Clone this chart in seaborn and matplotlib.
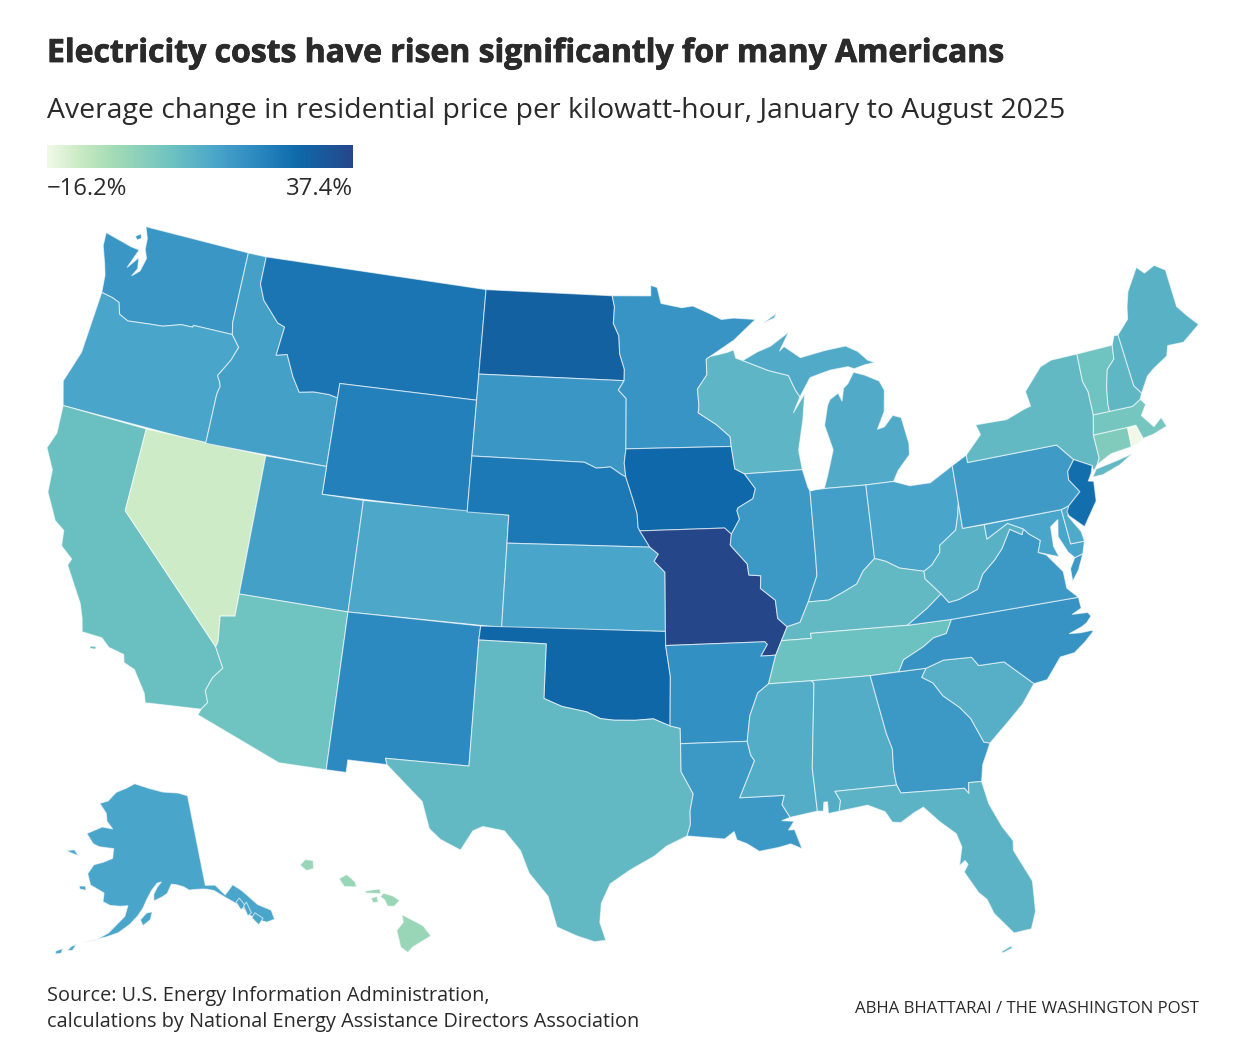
import numpy as np
import matplotlib
matplotlib.use("Agg")
import matplotlib.pyplot as plt
import matplotlib.patheffects as pe
from matplotlib.colors import LinearSegmentedColormap, Normalize
import seaborn as sns

# change in price, percent
states = ['WA','OR','CA','NV','ID','MT','WY','UT','CO','AZ','NM','ND','SD','NE','KS','OK','TX',
          'MN','IA','MO','AR','LA','WI','IL','MI','IN','OH','KY','TN','MS','AL','GA','FL','SC',
          'NC','VA','WV','MD','DE','PA','NY','NJ','CT','RI','MA','VT','NH','ME','AK','HI']
change = [17.0,13.3,6.3,-10.8,14.4,25.0,22.4,14.4,12.7,5.2,20.2,29.9,17.0,24.0,13.3,28.3,7.9,
          17.6,27.8,37.4,18.6,16.5,9.0,16.5,11.7,14.9,13.3,7.9,5.8,11.1,11.1,16.5,9.5,10.6,
          18.1,16.5,10.0,13.3,12.2,16.0,7.9,26.7,2.0,-16.2,4.2,5.2,8.5,10.0,13.3,-2.8]
vmin, vmax = -16.2, 37.4

# state outlines, lon/lat. simplified by hand. some states have more than one piece
outlines = {
 'WA': [[(-124.7,48.38),(-124.65,47.9),(-124.3,47.3),(-124.1,46.9),(-124.0,46.27),(-123.4,46.2),(-123.0,46.1),(-122.8,45.7),(-122.3,45.55),(-121.2,45.65),(-120.5,45.7),(-119.6,45.92),(-119.0,45.93),(-118.98,46.0),(-116.92,46.0),(-117.04,46.42),(-117.04,49),(-122.75,49),(-122.5,48.6),(-122.45,48.2),(-122.25,47.9),(-122.4,47.4),(-122.75,47.15),(-122.55,47.45),(-122.65,47.85),(-123.1,47.4),(-122.75,48.12),(-123.2,48.15)],
        [(-123.15,48.55),(-122.9,48.7),(-122.8,48.55),(-123.0,48.45)]],
 'OR': [[(-124.2,42),(-124.55,42.84),(-124.1,44.0),(-124.0,46.27),(-123.4,46.2),(-123.0,46.1),(-122.8,45.7),(-122.3,45.55),(-121.2,45.65),(-120.5,45.7),(-119.6,45.92),(-119.0,45.93),(-118.98,46.0),(-116.92,46.0),(-116.46,45.6),(-116.7,45.1),(-116.85,44.9),(-117.2,44.45),(-117.03,44.25),(-116.95,44.1),(-117.03,43.8),(-117.03,42)]],
 'CA': [[(-124.2,42),(-120,42),(-120,39),(-114.63,35),(-114.14,34.3),(-114.5,33.9),(-114.7,33.4),(-114.5,33),(-114.72,32.72),(-117.12,32.53),(-117.25,32.85),(-117.9,33.6),(-118.4,33.75),(-118.5,34.03),(-119.2,34.15),(-119.6,34.42),(-120.5,34.45),(-120.65,34.9),(-120.9,35.4),(-121.9,36.6),(-121.8,36.85),(-122.4,37.2),(-122.5,37.75),(-123.0,38.0),(-123.7,38.9),(-123.8,39.7),(-124.35,40.4),(-124.1,41.0)],
        [(-120.0,34.03),(-119.75,34.07),(-119.75,33.97),(-120.0,33.95)]],
 'NV': [[(-120,42),(-114.05,42),(-114.05,36.2),(-114.7,36.1),(-114.57,35.2),(-114.63,35),(-120,39)]],
 'ID': [[(-117.04,49),(-116.05,49),(-116.05,48.0),(-115.7,47.45),(-114.75,46.75),(-114.35,46.65),(-114.5,45.6),(-113.95,45.7),(-113.45,44.95),(-113.0,44.45),(-112.3,44.55),(-111.5,44.55),(-111.05,44.48),(-111.05,42),(-117.03,42),(-117.03,43.8),(-116.95,44.1),(-117.03,44.25),(-117.2,44.45),(-116.85,44.9),(-116.7,45.1),(-116.46,45.6),(-116.92,46.0),(-117.04,46.42)]],
 'MT': [[(-116.05,49),(-104.05,49),(-104.05,45),(-111.05,45),(-111.05,44.48),(-111.5,44.55),(-112.3,44.55),(-113.0,44.45),(-113.45,44.95),(-113.95,45.7),(-114.5,45.6),(-114.35,46.65),(-114.75,46.75),(-115.7,47.45),(-116.05,48.0)]],
 'WY': [[(-111.05,45),(-104.05,45),(-104.05,41),(-111.05,41)]],
 'UT': [[(-114.05,42),(-111.05,42),(-111.05,41),(-109.05,41),(-109.05,37),(-114.05,37)]],
 'CO': [[(-109.05,41),(-102.05,41),(-102.05,37),(-109.05,37)]],
 'AZ': [[(-114.05,37),(-109.05,37),(-109.05,31.33),(-111.07,31.33),(-114.81,32.5),(-114.72,32.72),(-114.5,33),(-114.7,33.4),(-114.5,33.9),(-114.14,34.3),(-114.63,35),(-114.57,35.2),(-114.7,36.1),(-114.05,36.2)]],
 'NM': [[(-109.05,37),(-103,37),(-103.04,36.5),(-103.06,32),(-106.62,32),(-106.53,31.78),(-108.2,31.78),(-108.2,31.33),(-109.05,31.33)]],
 'ND': [[(-104.05,49),(-97.23,49),(-97.1,48.6),(-97.15,48.0),(-96.85,47.55),(-96.8,46.9),(-96.55,46.35),(-96.56,45.94),(-104.05,45.94)]],
 'SD': [[(-104.05,45.94),(-96.56,45.94),(-96.85,45.6),(-96.45,45.3),(-96.45,43.5),(-96.53,43.0),(-96.45,42.5),(-96.7,42.6),(-97.2,42.85),(-97.9,42.8),(-98.5,43.0),(-104.05,43)]],
 'NE': [[(-104.05,43),(-98.5,43),(-97.9,42.8),(-97.2,42.85),(-96.7,42.6),(-96.45,42.5),(-96.1,41.7),(-95.9,41.2),(-95.85,40.7),(-95.77,40.58),(-95.3,40),(-102.05,40),(-102.05,41),(-104.05,41)]],
 'KS': [[(-102.05,40),(-95.3,40),(-94.9,39.75),(-95.1,39.5),(-94.6,39.1),(-94.62,37),(-102.05,37)]],
 'OK': [[(-103,37),(-94.62,37),(-94.62,36.5),(-94.43,35.4),(-94.48,33.64),(-95.2,33.9),(-96,33.85),(-96.9,33.85),(-97.5,33.9),(-98.1,34.13),(-99.2,34.3),(-100,34.56),(-100,36.5),(-103.04,36.5)]],
 'TX': [[(-103.04,36.5),(-100,36.5),(-100,34.56),(-99.2,34.3),(-98.1,34.13),(-97.5,33.9),(-96.9,33.85),(-96,33.85),(-95.2,33.9),(-94.48,33.64),(-94.04,33.55),(-94.04,33),(-94.04,32),(-93.55,31.2),(-93.7,30.6),(-93.7,30.1),(-93.85,29.7),(-94.7,29.35),(-95.2,29.0),(-96.2,28.5),(-97.0,28.0),(-97.35,27.3),(-97.4,26.6),(-97.15,25.96),(-97.6,25.9),(-98.3,26.1),(-99.1,26.4),(-99.5,27.5),(-100.3,28.3),(-100.7,29.1),(-101.4,29.77),(-102.3,29.88),(-102.7,29.7),(-103.15,28.98),(-104.0,29.3),(-104.5,29.65),(-104.9,30.6),(-106.0,31.4),(-106.53,31.78),(-106.62,32),(-103.06,32)]],
 'MN': [[(-97.23,49),(-95.15,49),(-95.15,49.38),(-94.8,49.3),(-94.6,48.72),(-93.5,48.55),(-92.9,48.6),(-92.0,48.3),(-91.4,48.07),(-90.75,48.1),(-89.6,48.0),(-90.8,47.3),(-92.1,46.75),(-92.29,46.66),(-92.29,46.1),(-92.8,45.6),(-92.75,45),(-92.8,44.75),(-91.9,44.3),(-91.25,43.85),(-91.22,43.5),(-96.45,43.5),(-96.45,45.3),(-96.85,45.6),(-96.56,45.94),(-96.55,46.35),(-96.8,46.9),(-96.85,47.55),(-97.15,48.0),(-97.1,48.6)]],
 'IA': [[(-96.45,43.5),(-91.22,43.5),(-91.1,42.7),(-90.64,42.5),(-90.15,41.95),(-90.3,41.6),(-91.05,41.3),(-91.1,41.2),(-91,40.9),(-91.42,40.38),(-91.73,40.61),(-95.77,40.58),(-95.85,40.7),(-95.9,41.2),(-96.1,41.7),(-96.45,42.5),(-96.53,43.0)]],
 'MO': [[(-95.77,40.58),(-91.73,40.61),(-91.42,40.38),(-91.5,40),(-91.4,39.9),(-90.75,39.3),(-90.7,38.9),(-90.15,38.85),(-90.2,38.4),(-89.55,37.95),(-89.5,37.3),(-89.1,36.98),(-89.4,36.5),(-89.7,36),(-90.37,36),(-90.05,36.4),(-90.15,36.5),(-94.62,36.5),(-94.62,37),(-94.6,39.1),(-95.1,39.5),(-94.9,39.75),(-95.3,40)]],
 'AR': [[(-94.62,36.5),(-90.15,36.5),(-90.05,36.4),(-90.37,36),(-89.7,36),(-90.1,35),(-90.6,34.7),(-91,33.9),(-91.17,33),(-94.04,33),(-94.04,33.55),(-94.48,33.64),(-94.43,35.4)]],
 'LA': [[(-94.04,33),(-91.17,33),(-91.05,32.5),(-90.9,32.3),(-91.6,31),(-89.73,31),(-89.85,30.67),(-89.55,30.2),(-89.9,30.1),(-89.4,30.05),(-89.65,29.75),(-89.4,29.75),(-89.15,29.05),(-89.6,29.25),(-90.1,29.15),(-90.9,29.05),(-91.4,29.35),(-91.8,29.5),(-91.9,29.8),(-92.3,29.55),(-93.85,29.7),(-93.7,30.1),(-93.7,30.6),(-93.55,31.2),(-94.04,32)]],
 'MS': [[(-90.1,35),(-88.2,35),(-88.1,34.9),(-88.47,31.9),(-88.4,30.35),(-89.55,30.2),(-89.85,30.67),(-89.73,31),(-91.6,31),(-90.9,32.3),(-91.05,32.5),(-91.17,33),(-91,33.9),(-90.6,34.7)]],
 'AL': [[(-88.2,35),(-85.6,34.98),(-85.18,32.87),(-85,32.3),(-85.05,31.55),(-85,31),(-87.6,31),(-87.4,30.65),(-87.5,30.28),(-87.95,30.23),(-87.95,30.65),(-88.1,30.65),(-88.15,30.33),(-88.4,30.35),(-88.47,31.9),(-88.1,34.9)]],
 'FL': [[(-87.6,31),(-85,31),(-84.86,30.7),(-82.2,30.57),(-82.05,30.36),(-82,30.75),(-81.45,30.72),(-81.3,29.9),(-80.9,29.0),(-80.55,28.45),(-80.6,28.1),(-80.05,26.9),(-80.13,25.8),(-80.4,25.2),(-81.1,25.15),(-81.75,25.95),(-81.95,26.5),(-82.25,26.8),(-82.7,27.6),(-82.5,27.85),(-82.6,28.0),(-82.85,27.85),(-82.65,28.5),(-82.8,29.0),(-83.4,29.5),(-84,30.1),(-84.4,29.95),(-85,29.65),(-85.35,29.7),(-85.6,30.1),(-86.3,30.4),(-87.5,30.28),(-87.4,30.65)],
        [(-81.7,24.55),(-81.3,24.7),(-81.25,24.62),(-81.65,24.5)]],
 'GA': [[(-85.6,34.98),(-83.11,35),(-83.35,34.7),(-82.9,34.45),(-82.55,33.95),(-81.9,33.45),(-81.5,33),(-81.1,32.1),(-80.85,32.03),(-81.3,31.3),(-81.45,30.72),(-82,30.75),(-82.05,30.36),(-82.2,30.57),(-84.86,30.7),(-85,31),(-85.05,31.55),(-85,32.3),(-85.18,32.87)]],
 'SC': [[(-83.11,35),(-82.3,35.2),(-81.05,35.15),(-80.8,34.82),(-79.67,34.8),(-78.55,33.85),(-79.2,33.2),(-79.9,32.7),(-80.85,32.03),(-81.1,32.1),(-81.5,33),(-81.9,33.45),(-82.55,33.95),(-82.9,34.45),(-83.35,34.7)]],
 'NC': [[(-84.32,35),(-83.11,35),(-82.3,35.2),(-81.05,35.15),(-80.8,34.82),(-79.67,34.8),(-78.55,33.85),(-77.95,33.9),(-77.2,34.6),(-76.55,34.65),(-76.0,34.95),(-75.55,35.25),(-75.6,35.3),(-76.1,35.3),(-76.6,35.35),(-76.0,35.5),(-75.75,35.6),(-75.5,35.8),(-75.6,35.95),(-76.3,36.0),(-75.85,36.15),(-75.87,36.55),(-81.68,36.59),(-82,36.12),(-82.6,36.03),(-83.1,35.77),(-84.05,35.4)]],
 'TN': [[(-90.1,35),(-89.7,36),(-89.4,36.5),(-88.05,36.5),(-88.07,36.68),(-83.68,36.6),(-81.68,36.59),(-82,36.12),(-82.6,36.03),(-83.1,35.77),(-84.05,35.4),(-84.32,35),(-85.6,34.98),(-88.2,35)]],
 'KY': [[(-89.4,36.5),(-89.1,36.98),(-88.5,37.1),(-88.05,37.8),(-87.1,37.8),(-86.5,38),(-85.75,38.27),(-85.4,38.7),(-84.8,39.1),(-84.3,38.95),(-83.7,38.65),(-82.6,38.42),(-82.6,38.15),(-81.97,37.54),(-82.7,37.1),(-83.68,36.6),(-88.07,36.68),(-88.05,36.5)]],
 'WV': [[(-82.6,38.42),(-82.6,38.15),(-81.97,37.54),(-81.68,37.2),(-81.2,37.25),(-80.3,37.5),(-79.95,38),(-79.3,38.42),(-78.87,38.77),(-78.35,39.4),(-77.83,39.13),(-77.72,39.32),(-78.4,39.62),(-79.48,39.2),(-79.48,39.72),(-80.52,39.72),(-80.52,40.64),(-80.65,40.2),(-80.85,39.7),(-81.7,39.25),(-81.75,39),(-82.2,38.6)]],
 'VA': [[(-83.68,36.6),(-81.68,36.59),(-75.87,36.55),(-76.3,36.95),(-76.3,37.55),(-76.9,38.25),(-77.25,38.4),(-77.04,38.8),(-77.5,39.1),(-77.72,39.32),(-77.83,39.13),(-78.35,39.4),(-78.87,38.77),(-79.3,38.42),(-79.95,38),(-80.3,37.5),(-81.2,37.25),(-81.68,37.2),(-81.97,37.54),(-82.7,37.1)],
        [(-75.97,37.15),(-75.95,37.6),(-75.65,37.95),(-75.25,38.03),(-75.6,37.5)]],
 'MD': [[(-79.48,39.72),(-75.79,39.72),(-75.7,38.46),(-75.05,38.45),(-75.25,38.03),(-75.65,37.95),(-75.9,38.2),(-76.2,38.8),(-76.05,39.4),(-76.45,39.2),(-76.5,38.5),(-76.35,38.1),(-76.95,38.3),(-77.25,38.4),(-77.04,38.8),(-77.5,39.1),(-77.72,39.32),(-78.4,39.62),(-79.48,39.2)]],
 'DE': [[(-75.79,39.72),(-75.4,39.8),(-75.55,39.45),(-75.1,38.8),(-75.05,38.45),(-75.7,38.46)]],
 'PA': [[(-80.52,41.98),(-79.76,42.27),(-79.76,42),(-75.35,42),(-74.7,41.36),(-75.1,41),(-75.15,40.7),(-74.75,40.2),(-75.4,39.8),(-75.79,39.72),(-80.52,39.72)]],
 'OH': [[(-84.8,41.73),(-83.45,41.73),(-82.7,41.5),(-81.7,41.5),(-80.52,41.98),(-80.52,40.64),(-80.65,40.2),(-80.85,39.7),(-81.7,39.25),(-81.75,39),(-82.2,38.6),(-82.6,38.42),(-83.7,38.65),(-84.3,38.95),(-84.8,39.1)]],
 'IN': [[(-87.52,41.72),(-87.2,41.75),(-86.82,41.76),(-84.8,41.73),(-84.8,39.1),(-85.4,38.7),(-85.75,38.27),(-86.5,38),(-87.1,37.8),(-88.05,37.8),(-87.55,38.7),(-87.53,39.35)]],
 'IL': [[(-90.64,42.5),(-87.8,42.5),(-87.6,41.85),(-87.52,41.72),(-87.53,39.35),(-87.55,38.7),(-88.05,37.8),(-88.5,37.1),(-89.1,36.98),(-89.5,37.3),(-89.55,37.95),(-90.2,38.4),(-90.15,38.85),(-90.7,38.9),(-90.75,39.3),(-91.4,39.9),(-91.5,40),(-91.42,40.38),(-91,40.9),(-91.1,41.2),(-91.05,41.3),(-90.3,41.6),(-90.15,41.95)]],
 'WI': [[(-92.29,46.66),(-92.1,46.75),(-91.2,46.87),(-90.85,46.95),(-90.75,46.65),(-90.4,46.55),(-89.1,46.13),(-88.1,45.9),(-87.8,45.35),(-87.6,45.1),(-88,44.55),(-87.35,45.2),(-87.55,44.3),(-87.9,43.2),(-87.8,42.5),(-90.64,42.5),(-91.1,42.7),(-91.22,43.5),(-91.25,43.85),(-91.9,44.3),(-92.8,44.75),(-92.75,45),(-92.8,45.6),(-92.29,46.1)]],
 'MI': [[(-86.82,41.76),(-84.8,41.73),(-83.45,41.73),(-83.15,42.1),(-82.5,42.6),(-82.45,43),(-82.65,43.95),(-83.05,44.07),(-83.55,43.7),(-83.9,43.65),(-83.45,44.25),(-83.3,45),(-83.5,45.35),(-84.2,45.63),(-84.75,45.78),(-85.1,45.4),(-85.35,45.25),(-85.5,44.8),(-85.65,45.1),(-86.1,44.9),(-86.25,44.7),(-86.5,44),(-86.2,43.1),(-86.6,42.2)],
        [(-90.4,46.55),(-89.1,46.13),(-88.1,45.9),(-87.8,45.35),(-87.6,45.1),(-87,45.75),(-86.5,45.85),(-85.9,45.95),(-85,46),(-84.7,45.9),(-84.1,46),(-83.6,46.03),(-83.95,46.15),(-84.4,46.5),(-85,46.75),(-86.1,46.67),(-87.4,46.5),(-88.2,46.95),(-88.45,46.8),(-87.9,47.45),(-88.9,47),(-89.6,46.83)],
        [(-89.2,47.85),(-88.45,48.17),(-88.6,48.0)]],
 'NY': [[(-79.76,42.27),(-78.9,42.9),(-79.05,43.27),(-77.5,43.25),(-76.5,43.5),(-76.2,43.55),(-76.3,44.1),(-75.3,44.85),(-74.7,45),(-73.35,45),(-73.4,44),(-73.25,43.6),(-73.27,42.75),(-73.5,42.05),(-73.49,41.2),(-73.65,41),(-73.9,40.8),(-73.9,41),(-74.7,41.36),(-75.35,42),(-79.76,42)],
        [(-74,40.6),(-73.75,40.85),(-72.6,40.98),(-71.9,41.07),(-72.6,40.8),(-73.5,40.6)]],
 'NJ': [[(-73.9,41),(-74.7,41.36),(-75.1,41),(-75.15,40.7),(-74.75,40.2),(-75.4,39.8),(-75.55,39.6),(-75.5,39.45),(-74.9,38.95),(-74.1,39.75),(-74,40.45),(-74.25,40.5),(-74.03,40.75)]],
 'CT': [[(-73.5,42.05),(-71.8,42.02),(-71.85,41.32),(-72.9,41.25),(-73.65,41),(-73.49,41.2)]],
 'RI': [[(-71.8,42.02),(-71.38,42.02),(-71.2,41.5),(-71.5,41.37),(-71.85,41.32)]],
 'MA': [[(-73.27,42.75),(-71.3,42.7),(-70.85,42.87),(-70.65,42.65),(-71,42.3),(-70.55,41.8),(-70.1,42.05),(-69.95,41.7),(-70.65,41.55),(-71.2,41.5),(-71.38,42.02),(-71.8,42.02),(-73.5,42.05)]],
 'VT': [[(-73.35,45),(-71.5,45),(-71.6,44.5),(-72.05,44.2),(-72.3,43.6),(-72.45,43),(-72.46,42.73),(-73.27,42.75),(-73.25,43.6),(-73.4,44)]],
 'NH': [[(-71.5,45),(-71.3,45.3),(-71.08,45.3),(-70.98,43.4),(-70.7,43.07),(-70.85,42.87),(-71.3,42.7),(-72.46,42.73),(-72.45,43),(-72.3,43.6),(-72.05,44.2),(-71.6,44.5)]],
 'ME': [[(-71.08,45.3),(-70.4,45.75),(-70.25,46.2),(-70,46.7),(-69.23,47.46),(-68.9,47.18),(-68.3,47.35),(-67.8,47.07),(-67.8,45.7),(-67.45,45.3),(-67,44.85),(-68,44.4),(-68.8,44.45),(-69,44.1),(-69.8,43.8),(-70.2,43.6),(-70.7,43.07),(-70.98,43.4)]],
 'AK': [[(-141,69.65),(-143.5,70.1),(-148,70.4),(-152,70.85),(-156.6,71.35),(-159,70.85),(-162,70.3),(-164,69.3),(-166.2,68.9),(-164,68),(-163.5,67.2),(-161.8,66.5),(-164.5,66.55),(-168,65.6),(-166,64.7),(-164.5,64.5),(-161,64.5),(-161,63.5),(-163,63),(-165,62.6),(-166,61.6),(-165,60.5),(-162,59.9),(-162,59),(-160.5,58.7),(-158.5,58.7),(-157,58.8),(-157.5,57.7),(-158.8,56.9),(-160.3,55.9),(-162.5,55),(-164.8,54.6),(-162.5,55.05),(-160.5,55.5),(-158.5,56),(-156.5,56.9),(-155,57.8),(-154,58.6),(-153.2,59.5),(-152.2,60.4),(-151,61.1),(-150.1,61.2),(-151,60.7),(-151.8,60),(-151.8,59.3),(-150,59.7),(-149,60),(-148,60.9),(-147,60.8),(-145.5,60.5),(-144.5,60.1),(-142,60),(-141,59.9),(-139.5,59.6),(-137.5,58.6),(-136.5,58.1),(-135,57.3),(-134,56.2),(-133,55.6),(-131.5,55),(-130,55),(-130,56),(-132,57),(-134,58.8),(-135.5,59.7),(-137.5,58.9),(-139,60.1),(-141,60.3)],
        [(-154.5,57.4),(-153.3,58.1),(-152.2,58.2),(-152.6,57.4),(-154,56.8)],
        [(-167.3,60.2),(-166,60.3),(-165.7,59.9),(-167,59.9)],
        [(-171.8,63.4),(-170,63.7),(-168.8,63.2),(-170.5,63.3)],
        [(-166.5,54.0),(-165.7,54.3),(-166.2,53.6),(-167.1,53.5)],
        [(-169,53.2),(-167.9,53.6),(-168,53.1),(-168.9,52.9)],
        [(-135.8,57.9),(-135,58.2),(-134.3,57.3),(-135.3,57)],
        [(-134.6,57.3),(-133.9,57.6),(-133.6,56.4),(-134.4,56.2)],
        [(-133.8,55.9),(-133,56.3),(-131.9,55.5),(-133,55)]],
 'HI': [[(-159.8,22.05),(-159.6,22.25),(-159.3,22.22),(-159.27,21.93),(-159.55,21.85)],
        [(-158.3,21.57),(-158,21.72),(-157.68,21.45),(-157.63,21.27),(-158.1,21.28)],
        [(-157.32,21.12),(-156.75,21.2),(-156.7,21.03),(-157.25,21.05)],
        [(-157.07,20.87),(-156.85,20.93),(-156.8,20.73),(-157,20.7)],
        [(-156.72,20.92),(-156.6,21.05),(-156.25,20.95),(-155.98,20.78),(-156.2,20.57),(-156.45,20.58),(-156.55,20.8)],
        [(-155.9,20.27),(-155.6,20.12),(-155.1,19.87),(-154.8,19.5),(-155.5,19.1),(-155.68,18.91),(-155.95,19.1),(-156.1,19.7),(-155.85,20)]],
}

# colour ramp taken from the legend bar
ramp = [(0.0,'#f0f9e8'),(0.1,'#ccebc5'),(0.2,'#a8ddb5'),(0.4,'#6fc3c0'),(0.55,'#4aa5ca'),
        (0.69,'#2a88bf'),(0.82,'#0f69aa'),(1.0,'#25478a')]


def albers(pts, lon0, p1, p2, scale, x0, y0):
    pts = np.array(pts, dtype=float)
    s1, s2 = np.sin(np.radians(p1)), np.sin(np.radians(p2))
    n = (s1 + s2) / 2
    c = np.cos(np.radians(p1))**2 + 2 * n * s1
    rho = np.sqrt(c - 2 * n * np.sin(np.radians(pts[:, 1]))) / n
    th = n * np.radians(pts[:, 0] - lon0)
    return np.c_[x0 + scale * rho * np.sin(th), y0 + scale * rho * np.cos(th)]


def project(name, pts):
    if name == 'AK':
        return albers(pts, -154, 55, 65, 560, 143, 571)
    if name == 'HI':
        return albers(pts, -157, 8, 18, 1598, 373, -5804)
    return albers(pts, -96, 29.5, 45.5, 1598, 635, -1465)


sns.set_theme(style="white")
W, H = 1244, 1062
fig = plt.figure(figsize=(W / 100, H / 100), dpi=100, facecolor='white')
ax = fig.add_axes([0, 0, 1, 1])
ax.set_xlim(0, W)
ax.set_ylim(H, 0)
ax.axis('off')

cmap = LinearSegmentedColormap.from_list('price', ramp)
norm = Normalize(vmin, vmax)
for name, val in zip(states, change):
    for piece in outlines[name]:
        ax.fill(*project(name, piece).T, facecolor=cmap(norm(val)),
                edgecolor=(1, 1, 1, 0.6), linewidth=0.8, joinstyle='round')

# legend bar
lax = fig.add_axes([47 / W, 1 - 168 / H, 306 / W, 23 / H])
sns.heatmap(np.linspace(vmin, vmax, 256)[None, :], ax=lax, cmap=cmap, vmin=vmin, vmax=vmax,
            cbar=False, xticklabels=False, yticklabels=False)

ink = '#2a2a2a'
font = 'Open Sans'
title = ax.text(47, 62, 'Electricity costs have risen significantly for many Americans',
                fontsize=23, fontweight='bold', family=font, color=ink)
title.set_path_effects([pe.withStroke(linewidth=0.6, foreground=ink)])
ax.text(47, 118, 'Average change in residential price per kilowatt-hour, January to August 2025',
        fontsize=20.4, family=font, color=ink)
ax.text(47, 195, '\u221216.2%', fontsize=17.2, family=font, color=ink)
ax.text(353, 195, '37.4%', fontsize=17.2, ha='right', family=font, color=ink)
ax.text(47, 1001, 'Source: U.S. Energy Information Administration,',
        fontsize=14.3, family=font, color=ink)
ax.text(47, 1027, 'calculations by National Energy Assistance Directors Association',
        fontsize=14.3, family=font, color=ink)
ax.text(1199, 1013, 'ABHA BHATTARAI / THE WASHINGTON POST', fontsize=12.1, ha='right',
        family=font, color=ink)

fig.savefig('out.png', dpi=100)
